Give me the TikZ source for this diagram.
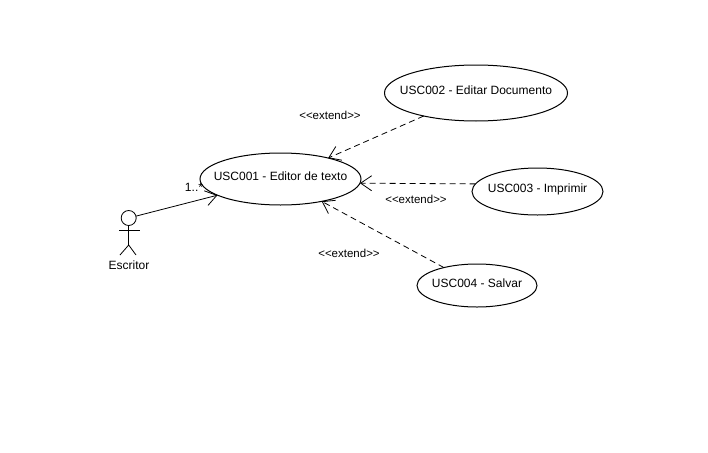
\documentclass[tikz,border=0pt]{standalone}
\usepackage{fontspec}
\setmainfont{Liberation Sans}
\usetikzlibrary{shapes.geometric,arrows.meta}
\tikzset{
  usecase/.style={draw,ellipse,inner sep=0pt,outer sep=0pt,line width=1pt,label={[lbl,yshift=2.5pt]center:#1}},
  lbl/.style={inner sep=0pt,font=\fontsize{12}{14}\selectfont},
  stereo/.style={inner sep=0pt,font=\fontsize{11.5}{13}\selectfont},
  assoc/.style={line width=0.8pt,-{Straight Barb[length=11pt,width=15pt,line width=0.8pt]}},
  extendline/.style={assoc,dash pattern=on 6pt off 4pt}
}
\begin{document}
\begin{tikzpicture}[x=1pt,y=-1pt]
\useasboundingbox (0,0) rectangle (708,452);
\fill[white] (0,0) rectangle (708,452);
% use cases
\node[usecase={USC001 - Editor de texto},minimum width=161pt,minimum height=52pt] (uc1) at (280.5,179) {};
\node[usecase={USC002 - Editar Documento},minimum width=183pt,minimum height=56pt] (uc2) at (476,93) {};
\node[usecase={USC003 - Imprimir},minimum width=131pt,minimum height=47pt] (uc3) at (537.5,191.5) {};
\node[usecase={USC004 - Salvar},minimum width=120pt,minimum height=43pt] (uc4) at (477,285.5) {};
% actor
\node[draw,circle,inner sep=0pt,outer sep=0pt,minimum size=15pt,line width=0.8pt] (head) at (128.7,218) {};
\coordinate (hip) at (128.7,245);
\coordinate (armL) at (119,230);
\coordinate (armR) at (140,230);
\coordinate (legL) at (120,255);
\coordinate (legR) at (136,255);
\draw[line width=0.8pt] (head) -- (hip);
\draw[line width=0.8pt] (armL) -- (armR);
\draw[line width=0.8pt] (legL) -- (hip) -- (legR);
\node[lbl] (actorname) at (129,265) {Escritor};
% connectors
\draw[assoc] (head) -- (uc1);
\draw[extendline] (uc2) -- (uc1);
\draw[extendline] (uc3.173) -- (uc1.-3.6);
\draw[extendline] (uc4) -- (uc1);
% labels
\node[lbl] (mult) at (194,187) {1..*};
\node[stereo] (ext2) at (330,115.5) {{<}{<}extend{>}{>}};
\node[stereo] (ext3) at (416,199.5) {{<}{<}extend{>}{>}};
\node[stereo] (ext4) at (349,253.5) {{<}{<}extend{>}{>}};
\end{tikzpicture}
\end{document}
